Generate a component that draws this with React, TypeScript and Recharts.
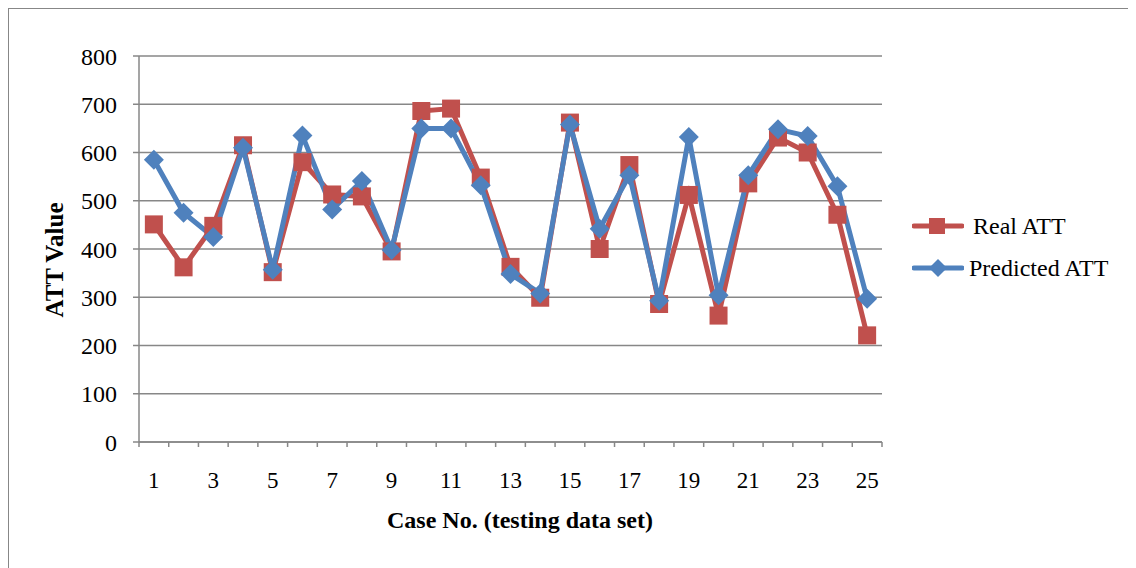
import { LineChart, Line, XAxis, YAxis, CartesianGrid, Legend, Label } from 'recharts';

const CASES = Array.from({ length: 25 }, (_, i) => i + 1);
const REAL_ATT = [451, 362, 448, 615, 352, 580, 513, 509, 395, 686, 691, 548, 363, 299, 662, 400, 574, 286, 512, 262, 536, 631, 600, 471, 221];
const PREDICTED_ATT = [585, 475, 425, 610, 357, 635, 482, 541, 398, 650, 650, 532, 348, 308, 658, 442, 553, 293, 632, 304, 553, 648, 634, 530, 297];
const Y_TICKS = [0, 100, 200, 300, 400, 500, 600, 700, 800];
// tick marks sit between categories, like Excel's category axis
const X_BOUNDS = Array.from({ length: 26 }, (_, i) => i + 0.5);

const RED = '#C0504D';
const BLUE = '#4F81BD';
const GRID = '#878787';
const FONT = '"Liberation Serif", "Times New Roman", serif';

const W = 1127;
const H = 559;
const MARGIN = { top: 47, right: 254, bottom: 36, left: 0 };
const YAXIS_W = 130;
const XAXIS_H = 90;
const PLOT_W = W - MARGIN.left - MARGIN.right - YAXIS_W;
const HALF_BAND = PLOT_W / 25 / 2;

const data = CASES.map((c, i) => ({ case: c, real: REAL_ATT[i], predicted: PREDICTED_ATT[i] }));

function SquareDot({ cx, cy }: any) {
  if (cx == null || cy == null) return null;
  return <rect x={cx - 9} y={cy - 9} width={18} height={18} fill={RED} />;
}

function DiamondDot({ cx, cy }: any) {
  if (cx == null || cy == null) return null;
  const r = 10;
  return <path d={`M${cx},${cy - r}L${cx + r},${cy}L${cx},${cy + r}L${cx - r},${cy}Z`} fill={BLUE} />;
}

function CaseTick({ x, y, payload }: any) {
  const n = payload.value + 0.5;
  if (n > 25 || n % 2 === 0) return null;
  return (
    <text x={x + HALF_BAND} y={y} dy="0.71em" textAnchor="middle" fill="#000" fontSize={23} fontFamily={FONT}>
      {n}
    </text>
  );
}

function LegendBox() {
  const rows = [
    { name: 'Real ATT', color: RED, shape: 'square', gap: 9 },
    { name: 'Predicted ATT', color: BLUE, shape: 'diamond', gap: 5 },
  ];
  return (
    <div style={{ fontFamily: FONT, fontSize: 24, color: '#000' }}>
      {rows.map((r) => (
        <div key={r.name} style={{ display: 'flex', alignItems: 'center', height: 42 }}>
          <svg width={52} height={20}>
            <line x1={2} y1={10} x2={50} y2={10} stroke={r.color} strokeWidth={5} strokeLinecap="round" />
            {r.shape === 'square' ? (
              <rect x={17} y={2} width={16} height={16} fill={r.color} />
            ) : (
              <path d="M26,1L35,10L26,19L17,10Z" fill={r.color} />
            )}
          </svg>
          <span style={{ marginLeft: r.gap, whiteSpace: 'nowrap' }}>{r.name}</span>
        </div>
      ))}
    </div>
  );
}

export default function App() {
  return (
    <div
      style={{
        width: W,
        height: H,
        borderTop: `1px solid ${GRID}`,
        borderLeft: `1px solid ${GRID}`,
        background: '#fff',
      }}
    >
      <style>{'body{overflow:hidden}'}</style>
      <LineChart width={W} height={H} data={data} margin={MARGIN}>
        <CartesianGrid vertical={false} stroke={GRID} strokeWidth={1.5} />
        <XAxis
          dataKey="case"
          type="number"
          domain={[0.5, 25.5]}
          ticks={X_BOUNDS}
          interval={0}
          height={XAXIS_H}
          tickSize={5}
          tickMargin={25}
          stroke={GRID}
          strokeWidth={1.5}
          tick={<CaseTick />}
        >
          <Label
            content={() => (
              <text x={511} y={519} textAnchor="middle" fontSize={24} fontWeight="bold" fontFamily={FONT} fill="#000">
                Case No. (testing data set)
              </text>
            )}
          />
        </XAxis>
        <YAxis
          domain={[0, 800]}
          ticks={Y_TICKS}
          interval={0}
          width={YAXIS_W}
          tickSize={6}
          tickMargin={16}
          stroke={GRID}
          strokeWidth={1.5}
          tick={{ fill: '#000', fontSize: 24, fontFamily: FONT }}
        >
          <Label
            content={() => (
              <text
                x={45}
                y={251}
                transform="rotate(-90 45 251)"
                textAnchor="middle"
                dominantBaseline="central"
                fontSize={25}
                fontWeight="bold"
                fontFamily={FONT}
                fill="#000"
              >
                ATT Value
              </text>
            )}
          />
        </YAxis>
        <Legend
          layout="horizontal"
          align="center"
          verticalAlign="middle"
          content={<LegendBox />}
          wrapperStyle={{ left: 903, top: 196, width: 224 }}
        />
        <Line
          type="linear"
          dataKey="real"
          name="Real ATT"
          stroke={RED}
          strokeWidth={5}
          dot={<SquareDot />}
          activeDot={false}
          isAnimationActive={false}
        />
        <Line
          type="linear"
          dataKey="predicted"
          name="Predicted ATT"
          stroke={BLUE}
          strokeWidth={5}
          dot={<DiamondDot />}
          activeDot={false}
          isAnimationActive={false}
        />
      </LineChart>
    </div>
  );
}
